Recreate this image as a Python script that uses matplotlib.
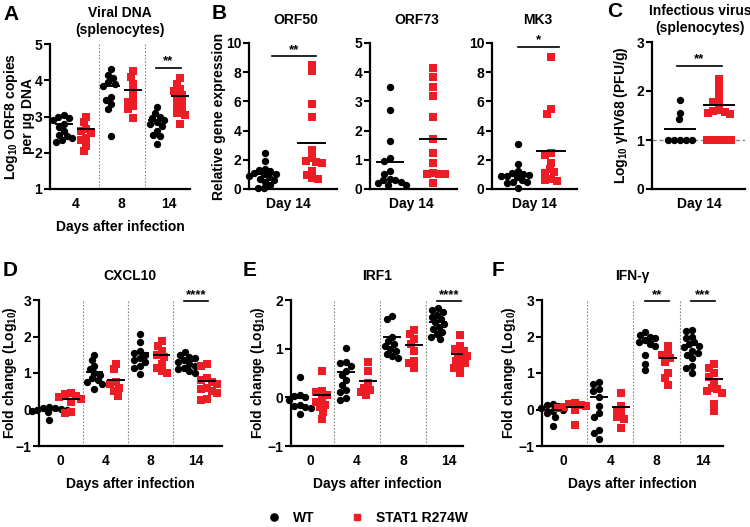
import matplotlib
matplotlib.use('Agg')
import matplotlib.pyplot as plt
from matplotlib.lines import Line2D
import numpy as np

plt.rcParams['font.family'] = ['Liberation Sans', 'DejaVu Sans']
plt.rcParams['font.weight'] = 'bold'
plt.rcParams['axes.labelweight'] = 'bold'
plt.rcParams['font.size'] = 10
plt.rcParams['mathtext.fontset'] = 'custom'
plt.rcParams['mathtext.rm'] = 'Liberation Sans:bold'
plt.rcParams['mathtext.it'] = 'Liberation Sans:bold'
plt.rcParams['mathtext.bf'] = 'Liberation Sans:bold'
plt.rcParams['mathtext.default'] = 'rm'

RED = '#ee1c25'

# ---------------- DATA ----------------
# Panel A: viral DNA (log10 ORF8 copies per ug DNA)
A_days = ['4', '8', '14']
A_wt = [[3.05, 3.0, 2.95, 2.9, 2.8, 2.7, 2.6, 2.5, 2.45, 2.4, 2.35, 2.3],
        [4.3, 4.15, 4.05, 3.95, 3.9, 3.85, 3.55, 3.45, 3.35, 3.2, 2.45],
        [3.25, 3.1, 3.0, 2.95, 2.9, 2.85, 2.8, 2.75, 2.6, 2.5, 2.45, 2.25]]
A_stat = [[3.0, 2.85, 2.65, 2.6, 2.55, 2.4, 2.35, 2.2, 2.05],
          [4.25, 4.1, 3.9, 3.7, 3.5, 3.4, 3.3, 3.2, 2.95],
          [4.05, 3.9, 3.75, 3.7, 3.6, 3.5, 3.4, 3.3, 3.2, 3.1, 3.05, 2.8]]
A_wt_mean = [2.78, 3.84, 2.9]
A_stat_mean = [2.66, 3.72, 3.57]
A_sig = {2: '**'}

# Panel B: relative gene expression at day 14
B_genes = ['ORF50', 'ORF73', 'MK3']
B_wt = [[2.45, 1.9, 1.4, 1.3, 1.2, 1.1, 1.0, 1.0, 0.9, 0.8, 0.7, 0.6, 0.5, 0.3, 0.1, 0.05],
        [3.5, 2.72, 1.65, 1.05, 0.95, 0.6, 0.5, 0.35, 0.3, 0.3, 0.25, 0.2, 0.15, 0.15],
        [3.1, 1.7, 1.2, 1.1, 1.0, 0.95, 0.9, 0.9, 0.8, 0.6, 0.5, 0.45, 0.4, 0.1]]
B_stat = [[8.5, 8.05, 5.8, 4.9, 2.7, 2.1, 1.9, 1.85, 1.8, 1.2, 0.95, 0.75, 0.7],
          [4.15, 3.82, 3.48, 3.2, 2.47, 1.72, 1.25, 0.9, 0.55, 0.52, 0.5, 0.5, 0.22],
          [9.05, 5.45, 5.15, 2.45, 2.35, 1.8, 1.4, 1.15, 1.1, 0.7, 0.6, 0.55]]
B_wt_mean = [1.0, 0.93, 0.97]
B_stat_mean = [3.15, 1.7, 2.57]
B_ymax = [10, 5, 10]
B_ystep = [2, 1, 2]
B_sig = ['**', None, '*']
B_sig_y = [9.1, None, 9.75]

# Panel C: infectious virus (log10 PFU/g)
C_wt = [1.82, 1.55, 1.43, 1.0, 1.0, 1.0, 1.0, 1.0]
C_stat = [2.25, 2.12, 1.95, 1.82, 1.78, 1.62, 1.6, 1.58, 1.55, 1.53, 1.0, 1.0, 1.0, 1.0, 1.0]
C_wt_mean = 1.22
C_stat_mean = 1.72
C_limit = 1.0

# Panels D-F: fold change (log10)
DEF_days = ['0', '4', '8', '14']
D_wt = [[0.08, 0.05, 0.02, 0.0, -0.02, -0.05, -0.08, 0.03, -0.3],
        [1.5, 1.35, 1.2, 1.1, 1.0, 0.95, 0.85, 0.8, 0.75, 0.7, 0.55],
        [2.07, 1.85, 1.6, 1.55, 1.5, 1.4, 1.35, 1.3, 1.2, 1.15, 0.98],
        [1.58, 1.5, 1.45, 1.4, 1.35, 1.3, 1.25, 1.2, 1.15, 1.1, 1.05, 1.0]]
D_stat = [[0.45, 0.42, 0.38, 0.35, 0.3, 0.2, -0.08, -0.1],
          [1.25, 1.1, 0.75, 0.7, 0.6, 0.5, 0.38],
          [1.88, 1.75, 1.6, 1.5, 1.45, 1.25, 1.15, 1.05, 1.0],
          [1.25, 1.2, 0.85, 0.8, 0.75, 0.7, 0.6, 0.55, 0.5, 0.45, 0.3, 0.25]]
D_wt_mean = [0.0, 1.02, 1.55, 1.32]
D_stat_mean = [0.28, 0.82, 1.5, 0.78]
D_sig = {3: '****'}

E_wt = [[0.42, 0.05, 0.02, 0.0, -0.05, -0.15, -0.18, -0.2, -0.22, -0.35],
        [1.02, 0.72, 0.7, 0.65, 0.55, 0.45, 0.35, 0.25, 0.15, 0.1, -0.02, -0.05],
        [1.68, 1.6, 1.25, 1.15, 1.1, 1.05, 1.0, 0.95, 0.9, 0.85, 0.8],
        [1.83, 1.8, 1.75, 1.7, 1.65, 1.6, 1.55, 1.5, 1.45, 1.4, 1.35, 1.3, 1.25, 1.2]]
E_stat = [[0.55, 0.12, 0.1, 0.05, -0.05, -0.1, -0.15, -0.2, -0.3, -0.45],
          [0.72, 0.55, 0.3, 0.2, 0.15, 0.1, 0.05],
          [1.38, 1.3, 1.2, 1.1, 0.95, 0.75, 0.7, 0.6],
          [1.28, 1.05, 1.0, 0.95, 0.9, 0.85, 0.8, 0.75, 0.7, 0.65, 0.6, 0.5]]
E_wt_mean = [-0.01, 0.52, 1.24, 1.55]
E_stat_mean = [0.04, 0.34, 1.07, 0.9]
E_sig = {3: '****'}

F_wt = [[0.15, 0.12, 0.1, 0.05, 0.0, -0.05, -0.1, -0.2, -0.45],
        [0.75, 0.7, 0.55, 0.5, 0.35, 0.1, -0.1, -0.2, -0.55, -0.65, -0.8],
        [2.12, 2.05, 2.0, 1.95, 1.9, 1.85, 1.8, 1.75, 1.5, 1.25, 1.08],
        [2.18, 2.15, 2.0, 1.95, 1.85, 1.8, 1.75, 1.7, 1.6, 1.55, 1.5, 1.4, 1.2, 1.15, 1.0]]
F_stat = [[0.18, 0.15, 0.12, 0.1, 0.08, 0.05, 0.0, -0.42],
          [0.45, 0.1, 0.0, -0.1, -0.2, -0.25, -0.52],
          [1.75, 1.55, 1.5, 1.4, 1.3, 1.0, 0.85, 0.68],
          [1.25, 1.15, 1.0, 0.9, 0.75, 0.6, 0.55, 0.5, 0.45, 0.15, -0.05]]
F_wt_mean = [0.0, 0.35, 1.85, 1.77]
F_stat_mean = [0.06, 0.08, 1.4, 0.83]
F_sig = {2: '**', 3: '***'}

# ---------------- FIGURE ----------------
W, H = 750, 527
fig = plt.figure(figsize=(7.5, 5.27), dpi=100)


def add_ax(l, t, r, b):
    ax = fig.add_axes([l / W, 1 - b / H, (r - l) / W, (b - t) / H])
    for s in ['top', 'right']:
        ax.spines[s].set_visible(False)
    for s in ['left', 'bottom']:
        ax.spines[s].set_linewidth(1.6)
    ax.tick_params(axis='y', direction='out', length=4, width=1.5, pad=1.5, labelsize=10)
    ax.tick_params(axis='x', length=0, pad=6, labelsize=10)
    return ax


def ylab(ax, text, right_px, left_px, width_px):
    ax.set_ylabel(text, fontsize=10, fontweight='bold', linespacing=1.1)
    ax.yaxis.set_label_coords((right_px - left_px) / width_px, 0.5)


def swarm(ax, xc, ys, diam=6.0):
    ys = np.asarray(ys, dtype=float)
    tr = ax.transData
    pts = tr.transform(np.column_stack([np.full(len(ys), xc), ys]))
    cx = pts[0, 0]
    placed = []
    off = np.zeros(len(ys))
    for i in np.argsort(-ys):
        py = pts[i, 1]
        cands = [0.0]
        for (px, qy) in placed:
            dy = py - qy
            if abs(dy) < diam:
                dx = np.sqrt(diam ** 2 - dy ** 2)
                cands += [px + dx, px - dx]
        cands.sort(key=lambda c: (abs(c), c))
        for c in cands:
            if all((c - px) ** 2 + (py - qy) ** 2 >= diam ** 2 - 1e-6 for px, qy in placed):
                break
        placed.append((c, py))
        off[i] = c
    return tr.inverted().transform(np.column_stack([cx + off, pts[:, 1]]))[:, 0]


def group(ax, xc, vals, kind, mean, half):
    xs = swarm(ax, xc, vals)
    if kind == 'wt':
        ax.scatter(xs, vals, s=28, marker='o', color='black', linewidths=0, zorder=3, clip_on=False)
    else:
        ax.scatter(xs, vals, s=26, marker='s', color=RED, linewidths=0, zorder=3, clip_on=False)
    ax.plot([xc - half, xc + half], [mean, mean], color='black', lw=1.4, zorder=4)


def sig(ax, x0, x1, y, txt):
    ax.plot([x0, x1], [y, y], color='black', lw=1.2, clip_on=False)
    ax.text((x0 + x1) / 2, y, txt, ha='center', va='bottom', fontsize=9.5, clip_on=False)


def separators(ax, n):
    for k in range(n - 1):
        ax.axvline(k + 0.5, color='#888888', lw=0.8, ls=(0, (1.5, 1.5)), zorder=1)


def days_panel(ax, days, wt, st, wtm, stm, sigs, xlim, ylim, yticks, half=0.17, d=0.24, sigy=None):
    ax.set_xlim(*xlim)
    ax.set_ylim(*ylim)
    ax.set_yticks(yticks)
    ax.set_xticks(range(len(days)))
    ax.set_xticklabels(days)
    separators(ax, len(days))
    for k in range(len(days)):
        group(ax, k - d, wt[k], 'wt', wtm[k], half)
        group(ax, k + d, st[k], 'st', stm[k], half)
    for k, t in sigs.items():
        sig(ax, k - 0.26, k + 0.26, sigy, t)
    ax.set_xlabel('Days after infection', fontsize=10, fontweight='bold', labelpad=6)


# Panel A
axA = add_ax(50, 44, 190, 189)
days_panel(axA, A_days, A_wt, A_stat, A_wt_mean, A_stat_mean, A_sig,
           (-0.54, 2.46), (1, 5), [1, 2, 3, 4, 5], sigy=4.35)
ylab(axA, 'Log$_{10}$ ORF8 copies\nper µg DNA', 35, 50, 140)

# Panel B
B_boxes = [(249, 43, 337, 189), (370, 43, 457, 189), (492, 43, 577, 189)]
B_xlims = [(-0.85, 1.05), (-0.95, 1.05), (-1.29, 1.29)]
B_bars = [(-0.35, 0.6), None, (-0.5, 0.75)]
for i, g in enumerate(B_genes):
    ax = add_ax(*B_boxes[i])
    ax.set_xlim(*B_xlims[i])
    ax.set_ylim(0, B_ymax[i])
    ax.set_yticks(np.arange(0, B_ymax[i] + 0.1, B_ystep[i]))
    ax.set_xticks([0])
    ax.set_xticklabels(['Day 14'])
    half = 0.3 if i < 2 else 0.42
    group(ax, -0.5, B_wt[i], 'wt', B_wt_mean[i], half)
    group(ax, 0.5, B_stat[i], 'st', B_stat_mean[i], half)
    if B_sig[i]:
        sig(ax, B_bars[i][0], B_bars[i][1], B_sig_y[i], B_sig[i])
    cx = (B_boxes[i][0] + B_boxes[i][2]) / 2
    fig.text(cx / W + 0.004, 1 - 20 / H, g, ha='center', va='center', fontsize=10)
    if i == 0:
        ylab(ax, 'Relative gene expression', 226, 249, 88)

# Panel C
axC = add_ax(652, 42, 745, 189)
axC.set_xlim(-1.22, 1.17)
axC.set_ylim(0, 3)
axC.set_yticks([0, 1, 2, 3])
axC.set_xticks([0])
axC.set_xticklabels(['Day 14'])
axC.axhline(C_limit, color='#888888', lw=1.0, ls=(0, (3, 2)), zorder=1)
group(axC, -0.5, C_wt, 'wt', C_wt_mean, 0.38)
group(axC, 0.5, C_stat, 'st', C_stat_mean, 0.38)
sig(axC, -0.58, 0.58, 2.52, '**')
ylab(axC, 'Log$_{10}$ γHV68 (PFU/g)', 630, 652, 93)

# Panels D, E, F
axD = add_ax(39, 300, 222, 446)
days_panel(axD, DEF_days, D_wt, D_stat, D_wt_mean, D_stat_mean, D_sig,
           (-0.46, 3.57), (-1, 3), [-1, 0, 1, 2, 3], sigy=2.97)
axE = add_ax(291, 300, 463, 446)
days_panel(axE, DEF_days, E_wt, E_stat, E_wt_mean, E_stat_mean, E_sig,
           (-0.43, 3.3), (-1, 2), [-1, 0, 1, 2], sigy=1.97)
axF = add_ax(542, 300, 723, 446)
days_panel(axF, DEF_days, F_wt, F_stat, F_wt_mean, F_stat_mean, F_sig,
           (-0.47, 3.43), (-1, 3), [-1, 0, 1, 2, 3], sigy=2.97)
ylab(axD, 'Fold change (Log$_{10}$)', 19, 39, 183)
ylab(axE, 'Fold change (Log$_{10}$)', 267, 291, 172)
ylab(axF, 'Fold change (Log$_{10}$)', 518, 542, 181)

# Titles
fig.text(120 / W, 1 - 6 / H, 'Viral DNA\n(splenocytes)', ha='center', va='top', fontsize=10, linespacing=1.25)
fig.text(700 / W, 1 - 4 / H, 'Infectious virus\n(splenocytes)', ha='center', va='top', fontsize=10, linespacing=1.25)
fig.text(130 / W, 1 - 276 / H, 'CXCL10', ha='center', va='center', fontsize=10)
fig.text(377 / W, 1 - 276 / H, 'IRF1', ha='center', va='center', fontsize=10)
fig.text(632 / W, 1 - 276 / H, 'IFN-γ', ha='center', va='center', fontsize=10)

# Panel letters
for lab, x, y in [('A', 3, 5), ('B', 212, 4), ('C', 607, 2), ('D', 3, 261), ('E', 243, 261), ('F', 492, 261)]:
    fig.text(x / W, 1 - y / H, lab, ha='left', va='top', fontsize=15, fontweight='bold')

# Legend
handles = [Line2D([], [], marker='o', ls='none', color='black', markersize=5.2),
           Line2D([], [], marker='s', ls='none', color=RED, markersize=5.0)]
fig.legend(handles, ['WT', 'STAT1 R274W'], loc='center', bbox_to_anchor=(0.49, 1 - 518 / H),
           ncol=2, frameon=False, fontsize=10, handletextpad=0.9, columnspacing=2.5, handlelength=1.0)

fig.savefig('out.png', dpi=100)
